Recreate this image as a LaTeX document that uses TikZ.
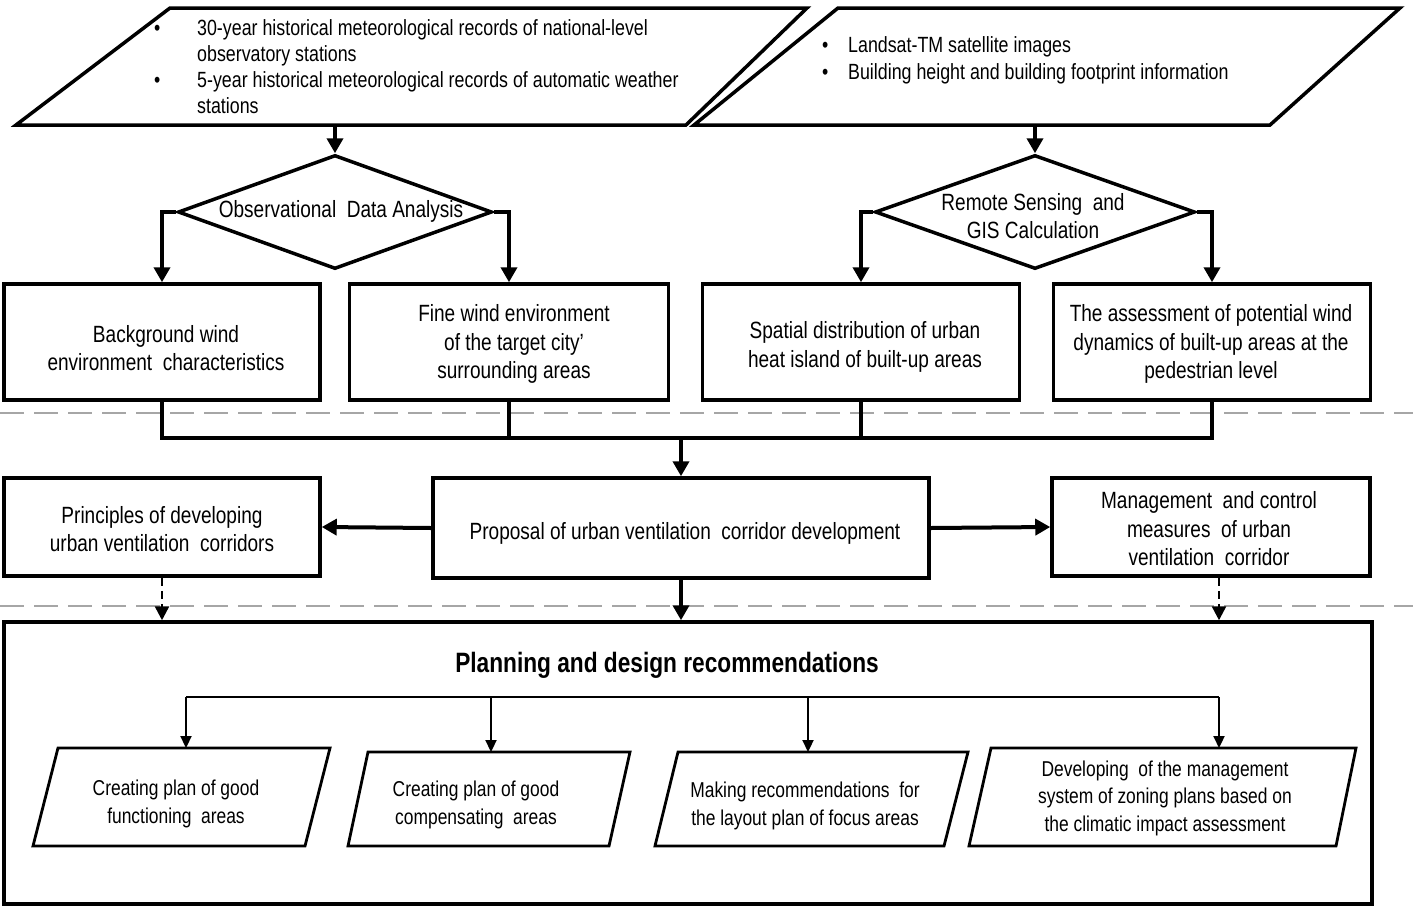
\documentclass[tikz,border=0pt]{standalone}
\usepackage{fontspec}
\setmainfont{Liberation Sans}[FakeStretch=0.81]
\usetikzlibrary{shapes.geometric,arrows.meta}
\begin{document}
\begin{tikzpicture}[x=1pt,y=-1pt,
  box/.style={draw, line width=3.5pt, inner sep=0pt},
  inshape/.style={draw, line width=3.5pt, line join=miter},
  para/.style={draw, line width=2.8pt, line join=miter},
  txt/.style={inner sep=0pt, align=center, font=\fontsize{23.5}{28.5}\selectfont},
  smalltxt/.style={inner sep=0pt, align=center, font=\fontsize{21.5}{27.5}\selectfont},
  thickline/.style={line width=4pt},
  thickarrow/.style={line width=4pt, -{Triangle[width=16pt,length=15pt]}},
  thinline/.style={line width=2.2pt},
  thinarrow/.style={line width=2.2pt, -{Triangle[width=11pt,length=12pt]}},
  dasharrow/.style={line width=2.5pt, dash pattern=on 8pt off 5pt, -{Triangle[width=14pt,length=14pt]}},
  sepline/.style={draw=black!35, line width=2.5pt, dash pattern=on 24pt off 10pt}
]
\useasboundingbox (0,0) rectangle (1413,908);
\fill[white] (0,0) rectangle (1413,908);

% separators
\coordinate (s1a) at (0,413); \coordinate (s1b) at (1413,413);
\coordinate (s2a) at (0,606); \coordinate (s2b) at (1413,606);
\draw[sepline] (s1a) -- (s1b);
\draw[sepline] (s2a) -- (s2b);

% top input parallelograms
\draw[inshape] (16,125) -- (170,8) -- (807,8) -- (686,125) -- cycle;
\draw[inshape] (694,125) -- (838,8) -- (1400,8) -- (1270,125) -- cycle;
\coordinate (srcLb) at (335,125);
\coordinate (srcRb) at (1035,125);

\node[anchor=west, inner sep=0pt, font=\fontsize{22}{26}\selectfont] (srcL) at (154,69)
 {\begin{tabular}{@{}p{43pt}@{}l@{}}
 •& 30-year historical meteorological records of national-level\\
  & observatory stations\\
 •& 5-year historical meteorological records of automatic weather\\
  & stations
 \end{tabular}};
\node[anchor=west, inner sep=0pt, font=\fontsize{22}{27}\selectfont] (srcR) at (822,61)
 {\begin{tabular}{@{}p{26pt}@{}l@{}}
 •& Landsat-TM satellite images\\
 •& Building height and building footprint information
 \end{tabular}};

% diamonds
\node[diamond, draw, line width=3.5pt, aspect=2.76, inner sep=0pt, minimum width=314pt, minimum height=114pt] (d1) at (335,212) {};
\node[txt] (d1t) at (341,211) {Observational\ \ Data Analysis};
\node[diamond, draw, line width=3.5pt, aspect=2.82, inner sep=0pt, minimum width=320pt, minimum height=114pt] (d2) at (1035,212) {};
\node[txt] (d2t) at (1033,216) {Remote Sensing\ \ and\\GIS Calculation};

\draw[thickarrow] (srcLb) -- (d1.north);
\draw[thickarrow] (srcRb) -- (d2.north);

% row 2 boxes
\node[box, minimum width=316pt, minimum height=116pt] (b1) at (162,342) {};
\node[box, minimum width=319pt, minimum height=116pt] (b2) at (509,342) {};
\node[box, minimum width=317pt, minimum height=116pt] (b3) at (861,342) {};
\node[box, minimum width=317pt, minimum height=116pt] (b4) at (1212,342) {};
\node[txt] (b1t) at (166,348) {Background wind\\environment\ \ characteristics};
\node[txt] (b2t) at (514,344) {Fine wind environment\\of the target city’\\surrounding areas};
\node[txt] (b3t) at (865,347) {Spatial distribution of urban\\heat island of built-up areas};
\node[txt] (b4t) at (1211,344) {The assessment of potential wind\\dynamics of built-up areas at the\\pedestrian level};

\draw[thickarrow] (d1.west) -| (b1.north);
\draw[thickarrow] (d1.east) -| (b2.north);
\draw[thickarrow] (d2.west) -| (b3.north);
\draw[thickarrow] (d2.east) -| (b4.north);

% row 3 boxes
\node[box, minimum width=316pt, minimum height=98pt] (prin) at (162,527) {};
\node[box, minimum width=496pt, minimum height=100pt] (prop) at (681,528) {};
\node[box, minimum width=318pt, minimum height=98pt] (mgmt) at (1211,527) {};
\node[txt] (print) at (162,529) {Principles of developing\\urban ventilation\ \ corridors};
\node[txt] (propt) at (685,533) {Proposal of urban ventilation\ \ corridor development};
\node[txt] (mgmtt) at (1209,529) {Management\ \ and control\\measures\ \ of urban\\ventilation\ \ corridor};

% joint
\coordinate (j) at (681,438);
\draw[thickline] (b1.south) |- (b4.south |- j) -- (b4.south);
\draw[thickline] (b2.south) -- (b2.south |- j);
\draw[thickline] (b3.south) -- (b3.south |- j);
\draw[thickarrow] (j) -- (prop.north);

\draw[thickarrow] (prop.west) -- (prin.east);
\draw[thickarrow] (prop.east) -- (mgmt.west);

% big box
\node[draw, line width=3.5pt, minimum width=1368pt, minimum height=282pt, inner sep=0pt] (big) at (688,763) {};
\node[inner sep=0pt, font=\bfseries\fontsize{28}{32}\selectfont] (title) at (667,665) {Planning and design recommendations};

\draw[dasharrow] (prin.south) -- (prin.south |- big.north);
\draw[thickarrow] (prop.south) -- (prop.south |- big.north);
\draw[dasharrow] ([xshift=8pt]mgmt.south) -- ([xshift=8pt]mgmt.south |- big.north);

% bottom parallelograms
\draw[para] (58,748) -- (330,748) -- (305,846) -- (33,846) -- cycle;
\draw[para] (368,752) -- (630,752) -- (609,846) -- (348,846) -- cycle;
\draw[para] (678,752) -- (968,752) -- (944,846) -- (655,846) -- cycle;
\draw[para] (991,748) -- (1356,748) -- (1336,846) -- (969,846) -- cycle;
\coordinate (p1t) at (186,748);
\coordinate (p2t) at (491,752);
\coordinate (p3t) at (808,752);
\coordinate (p4t) at (1219,748);

\node[smalltxt] (p1) at (176,804) {Creating plan of good\\functioning\ \ areas};
\node[smalltxt] (p2) at (476,805) {Creating plan of good\\compensating\ \ areas};
\node[smalltxt] (p3) at (805,806) {Making recommendations\ \ for\\the layout plan of focus areas};
\node[smalltxt] (p4) at (1165,798) {Developing\ \ of the management\\system of zoning plans based on\\the climatic impact assessment};

\coordinate (hl) at (0,697);
\draw[thinline] (p1t |- hl) -- (p4t |- hl);
\draw[thinarrow] (p1t |- hl) -- (p1t);
\draw[thinarrow] (p2t |- hl) -- (p2t);
\draw[thinarrow] (p3t |- hl) -- (p3t);
\draw[thinarrow] (p4t |- hl) -- (p4t);
\end{tikzpicture}
\end{document}
